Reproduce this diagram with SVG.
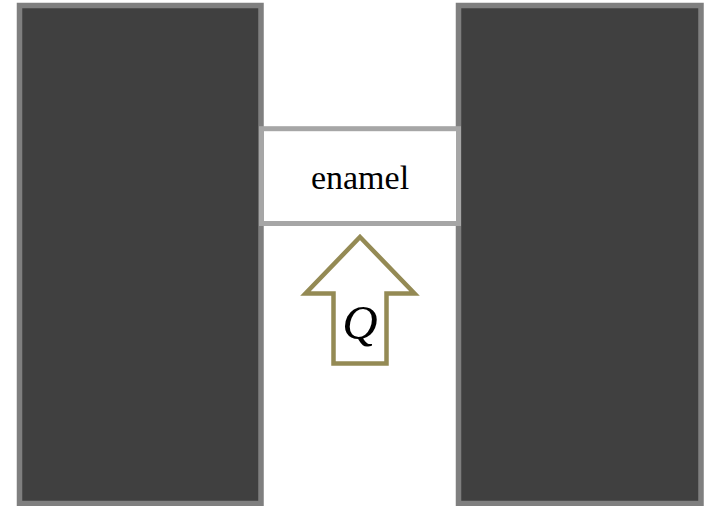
<svg xmlns="http://www.w3.org/2000/svg" width="708" height="506" viewBox="0 0 708 506">
  <style>
    .wall { fill: #404040; stroke: #7f7f7f; stroke-width: 5.5; }
    .layer { fill: #ffffff; stroke: #a6a6a6; stroke-width: 5; }
    .flux { fill: #ffffff; stroke: #948a54; stroke-width: 4.5; stroke-linejoin: miter; }
    .label { font-family: "Liberation Serif", "DejaVu Serif", serif; fill: #000000; text-anchor: middle; }
  </style>
  <rect width="708" height="506" fill="#ffffff"/>
  <g id="left-wall">
    <rect class="wall" x="19.5" y="5.5" width="241.5" height="498"/>
  </g>
  <g id="right-wall">
    <rect class="wall" x="458.5" y="5.5" width="242.5" height="498"/>
  </g>
  <g id="enamel">
    <rect class="layer" x="261.5" y="128.7" width="197" height="94.8"/>
    <text class="label" x="360" y="189" font-size="34">enamel</text>
  </g>
  <g id="connectors">
    <g id="heat-flux">
      <polygon class="flux" points="360,237 414.5,293.5 386.5,293.5 386.5,363.5 333.5,363.5 333.5,293.5 305.5,293.5"/>
      <text class="label" x="360" y="339" font-size="49" font-style="italic">Q</text>
    </g>
  </g>
</svg>
